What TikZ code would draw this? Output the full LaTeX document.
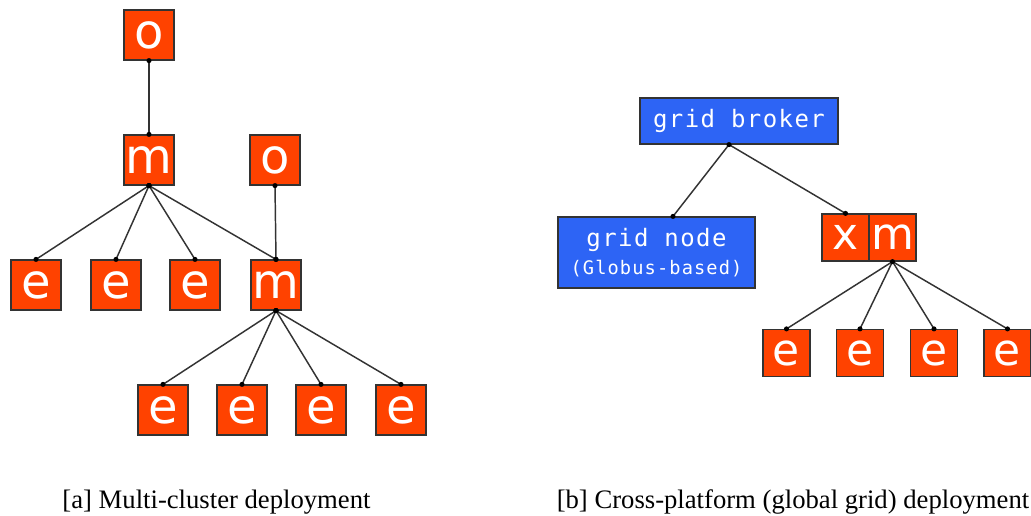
\documentclass[tikz,border=0pt]{standalone}
\usepackage{fontspec}
\setmainfont{Liberation Serif}
\newfontfamily\boxfont{DejaVu Sans}
\newfontfamily\gridfont[LetterSpace=6]{DejaVu Sans Mono}
\usetikzlibrary{calc}
\definecolor{boxred}{RGB}{255,66,0}
\definecolor{boxblue}{RGB}{45,100,245}
\begin{document}
\begin{tikzpicture}[x=0.75pt,y=-0.75pt,
  rbox/.style={draw=black!80, line width=0.9pt, fill=boxred, text=white,
    minimum width=37.5pt, minimum height=37.5pt, inner sep=0pt,
    font=\boxfont\fontsize{36}{36}\selectfont},
  rsmall/.style={rbox, minimum width=35.25pt, minimum height=35.25pt,
    font=\boxfont\fontsize{33}{33}\selectfont},
  bbox/.style={draw=black!80, line width=0.9pt, fill=boxblue, text=white, inner sep=0pt},
  conn/.style={draw=black!80, line width=1.1pt},
  dot/.style={fill=black},
  caption/.style={font=\fontsize{20}{24}\selectfont, anchor=base}]
\useasboundingbox (0,0) rectangle (1031,516);
% ---- left tree ----
\node[rbox] (o1) at (149,35) {o};
\node[rbox] (m1) at (149,160) {m};
\node[rbox] (o2) at (275,160) {o};
\node[rbox] (e1) at (36,285) {e};
\node[rbox] (e2) at (116,285) {e};
\node[rbox] (e3) at (195,285) {e};
\node[rbox] (m2) at (276,285) {m};
\node[rbox] (e4) at (163,410) {e};
\node[rbox] (e5) at (242,410) {e};
\node[rbox] (e6) at (321,410) {e};
\node[rbox] (e7) at (401,410) {e};
\foreach \a/\b in {o1/m1, m1/e1, m1/e2, m1/e3, m1/m2, o2/m2, m2/e4, m2/e5, m2/e6, m2/e7}{
  \draw[conn] (\a.south) -- (\b.north);
  \fill[dot] (\a.south) circle (1.9pt);
  \fill[dot] (\b.north) circle (1.9pt);
}
% ---- right tree ----
\node[bbox, minimum width=148.5pt, minimum height=34.5pt,
  font=\gridfont\fontsize{18}{18}\selectfont] (gb) at (739,121) {grid broker};
\node[bbox, minimum width=147.75pt, minimum height=53.25pt, align=center,
  font=\gridfont\fontsize{18}{21}\selectfont] (gn) at (656.5,252.5)
  {grid node\\[0pt]{\fontsize{14}{14}\selectfont (Globus-based)}};
\node[rsmall] (x) at (845.5,237.5) {x};
\node[rsmall] (m3) at (892.5,237.5) {m};
\node[rsmall] (f1) at (786.5,353) {e};
\node[rsmall] (f2) at (860,353) {e};
\node[rsmall] (f3) at (934,353) {e};
\node[rsmall] (f4) at (1007.5,353) {e};
\coordinate (gbd) at ($(gb.south)+(-10,0)$);
\coordinate (gnt) at ($(gn.north)+(16.5,0)$);
\draw[conn] (gbd) -- (gnt);
\draw[conn] (gbd) -- (x.north);
\fill[dot] (gbd) circle (1.9pt);
\fill[dot] (gnt) circle (1.9pt);
\fill[dot] (x.north) circle (1.9pt);
\foreach \b in {f1,f2,f3,f4}{
  \draw[conn] (m3.south) -- (\b.north);
  \fill[dot] (\b.north) circle (1.9pt);
}
\fill[dot] (m3.south) circle (1.9pt);
% ---- captions ----
\node[caption] (ca) at (216.5,508) {[a] Multi-cluster deployment};
\node[caption] (cb) at (793,508) {[b] Cross-platform (global grid) deployment};
\end{tikzpicture}
\end{document}
